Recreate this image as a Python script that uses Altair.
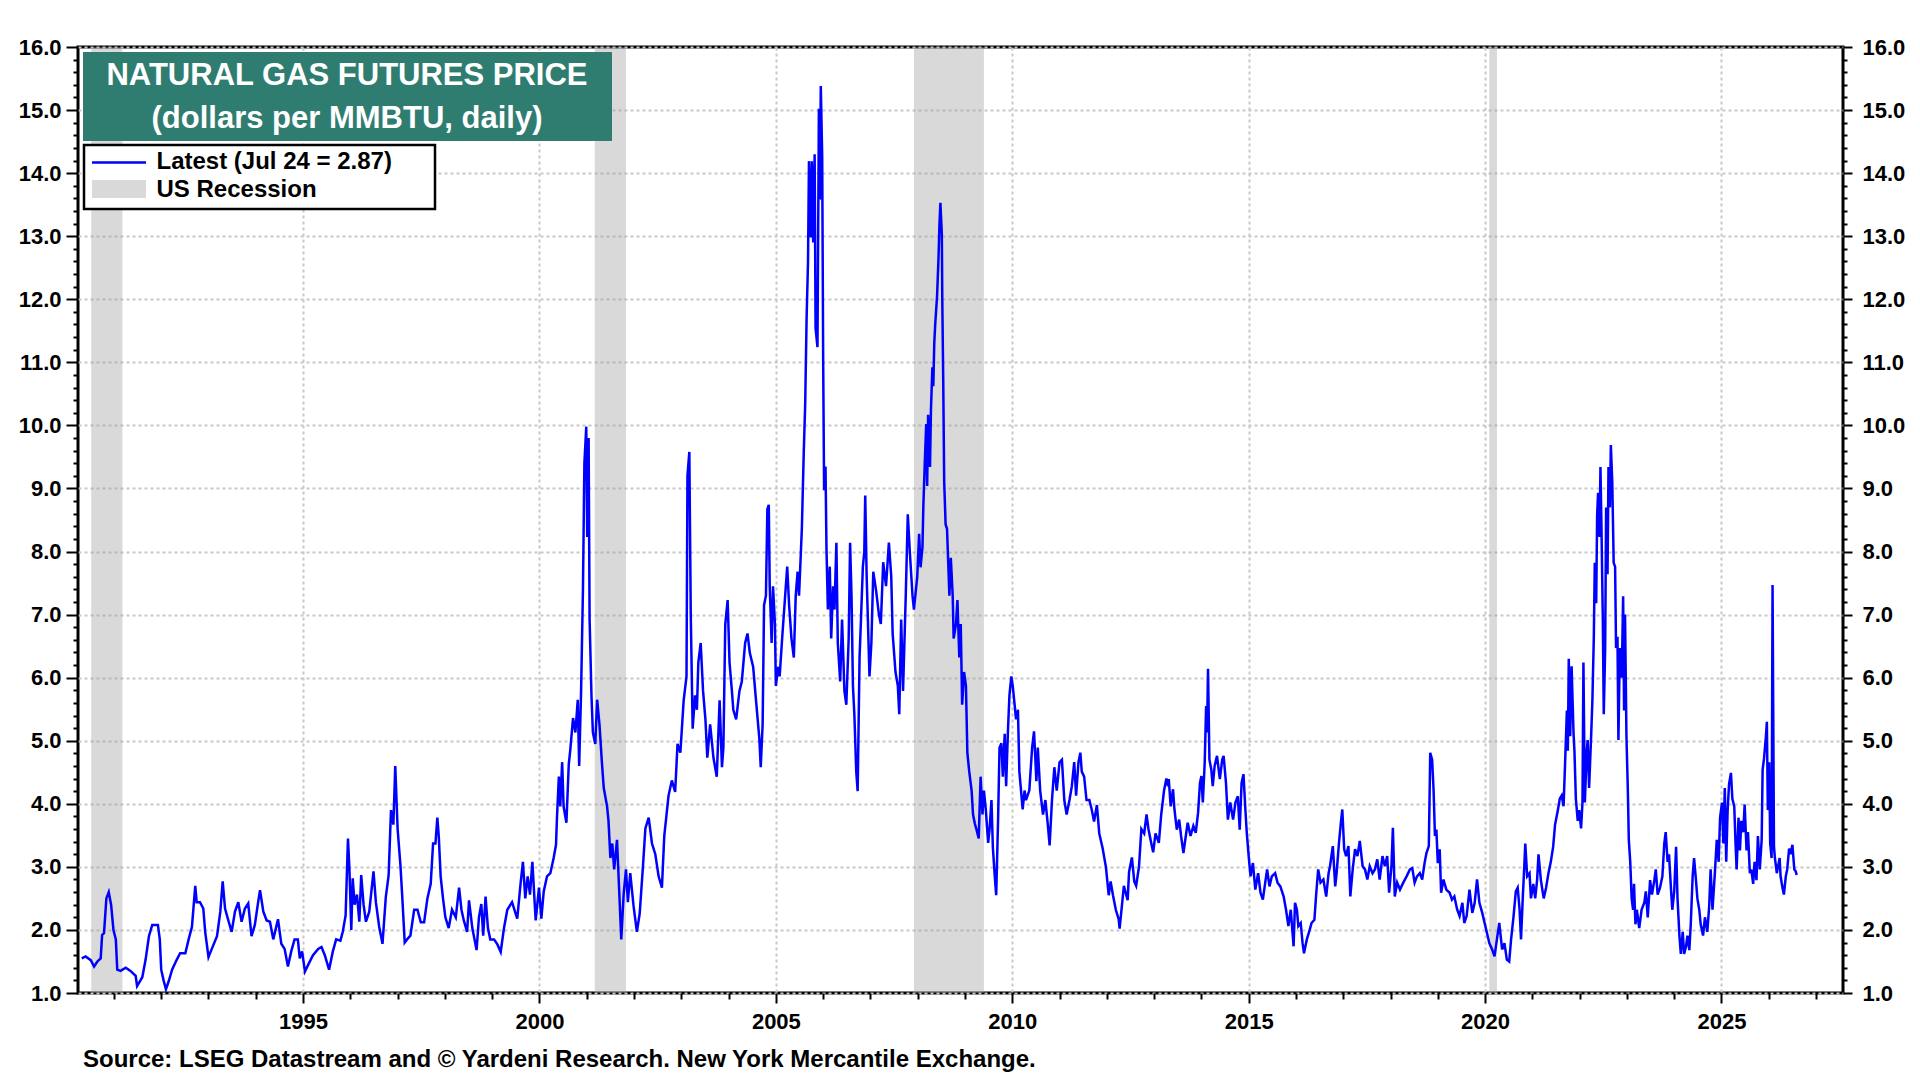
import altair as alt
import pandas as pd

FONT = "Liberation Sans"
TEAL = "#2e7d70"
BLUE = "#0000ff"

# natural gas front-month futures (decimal year, $/MMBTU)
years = [
    1990.32, 1990.40, 1990.51, 1990.58, 1990.65, 1990.72, 1990.75, 1990.79, 1990.84, 1990.89,
    1990.94, 1990.99, 1991.04, 1991.07, 1991.14, 1991.25, 1991.35, 1991.46, 1991.49, 1991.60,
    1991.67, 1991.74, 1991.81, 1991.93, 1991.97, 1992.00, 1992.05, 1992.10, 1992.16, 1992.23,
    1992.33, 1992.40, 1992.51, 1992.58, 1992.65, 1992.72, 1992.75, 1992.82, 1992.89, 1992.93,
    1993.00, 1993.07, 1993.18, 1993.25, 1993.30, 1993.35, 1993.42, 1993.49, 1993.56, 1993.63,
    1993.70, 1993.77, 1993.84, 1993.91, 1993.98, 1994.05, 1994.09, 1994.16, 1994.23, 1994.30,
    1994.37, 1994.47, 1994.54, 1994.61, 1994.68, 1994.75, 1994.82, 1994.89, 1994.93, 1994.98,
    1995.04, 1995.11, 1995.21, 1995.32, 1995.39, 1995.46, 1995.55, 1995.63, 1995.70, 1995.79,
    1995.84, 1995.90, 1995.95, 1995.98, 1996.02, 1996.05, 1996.09, 1996.14, 1996.19, 1996.23,
    1996.28, 1996.33, 1996.40, 1996.49, 1996.54, 1996.61, 1996.68, 1996.75, 1996.81, 1996.86,
    1996.91, 1996.95, 1997.00,
    1997.06, 1997.10, 1997.15, 1997.20, 1997.27, 1997.35, 1997.42, 1997.49, 1997.56, 1997.63,
    1997.70, 1997.75, 1997.80, 1997.84, 1997.87, 1997.91, 1997.96, 1998.01, 1998.08, 1998.15,
    1998.23, 1998.30, 1998.35, 1998.40, 1998.47, 1998.51, 1998.58, 1998.67, 1998.72, 1998.77,
    1998.81, 1998.86, 1998.91, 1998.96, 1999.04, 1999.11, 1999.18, 1999.25, 1999.32, 1999.42,
    1999.53, 1999.60, 1999.65, 1999.70, 1999.75, 1999.80, 1999.85, 1999.92, 1999.99, 2000.04,
    2000.09, 2000.16, 2000.23, 2000.30, 2000.35, 2000.37, 2000.41, 2000.44, 2000.48, 2000.51,
    2000.57, 2000.62, 2000.65, 2000.71, 2000.76, 2000.81, 2000.84, 2000.88, 2000.90, 2000.92,
    2000.95, 2000.99, 2001.01, 2001.04, 2001.06, 2001.10, 2001.13, 2001.18, 2001.22, 2001.27,
    2001.32, 2001.36, 2001.43, 2001.46, 2001.50, 2001.54, 2001.58, 2001.64, 2001.70, 2001.73,
    2001.78, 2001.83, 2001.87, 2001.92, 2001.99, 2002.06, 2002.12, 2002.19, 2002.24, 2002.31,
    2002.38, 2002.45, 2002.52, 2002.59, 2002.64, 2002.73, 2002.80, 2002.87, 2002.92,
    2002.98, 2003.05, 2003.11, 2003.13, 2003.17, 2003.20, 2003.24, 2003.29, 2003.33, 2003.36,
    2003.41, 2003.46, 2003.51, 2003.55, 2003.61, 2003.68, 2003.75, 2003.81, 2003.86, 2003.89,
    2003.93, 2003.98, 2004.02, 2004.07, 2004.10, 2004.16, 2004.23, 2004.28, 2004.35, 2004.40,
    2004.45, 2004.52, 2004.58, 2004.65, 2004.68, 2004.72, 2004.75, 2004.79, 2004.82, 2004.85,
    2004.87, 2004.91, 2004.94, 2004.98, 2005.00, 2005.05, 2005.08, 2005.14, 2005.19, 2005.24,
    2005.28, 2005.33, 2005.38, 2005.42, 2005.46, 2005.49, 2005.52, 2005.55, 2005.59, 2005.62,
    2005.65, 2005.68, 2005.70, 2005.74, 2005.76, 2005.79, 2005.82, 2005.84, 2005.88, 2005.91,
    2005.93, 2005.95, 2005.98, 2006.00, 2006.02, 2006.05, 2006.07, 2006.10, 2006.14, 2006.17,
    2006.21, 2006.24, 2006.28, 2006.31, 2006.36, 2006.40, 2006.45, 2006.49, 2006.54, 2006.57,
    2006.60, 2006.63, 2006.66, 2006.70, 2006.73, 2006.77, 2006.80, 2006.84, 2006.87, 2006.89,
    2006.92, 2006.98, 2007.02, 2007.06, 2007.12, 2007.18, 2007.22, 2007.27, 2007.33, 2007.39,
    2007.44, 2007.47, 2007.53, 2007.58, 2007.61, 2007.65, 2007.69, 2007.75, 2007.79, 2007.84,
    2007.89,
    2007.92, 2007.99, 2008.03, 2008.06, 2008.10, 2008.12, 2008.15, 2008.18, 2008.20, 2008.22,
    2008.26, 2008.28, 2008.31, 2008.33, 2008.35, 2008.37, 2008.39, 2008.41, 2008.44, 2008.46,
    2008.48, 2008.51, 2008.52, 2008.54, 2008.56, 2008.59, 2008.62, 2008.67, 2008.70, 2008.74,
    2008.76, 2008.81, 2008.84, 2008.88, 2008.91, 2008.94, 2008.98, 2009.02, 2009.05, 2009.09,
    2009.14, 2009.17, 2009.21, 2009.24, 2009.29, 2009.33, 2009.37, 2009.40, 2009.44, 2009.49,
    2009.52, 2009.56, 2009.59, 2009.63, 2009.66, 2009.70, 2009.73, 2009.77, 2009.80, 2009.84,
    2009.87, 2009.91, 2009.94, 2009.98, 2010.01, 2010.05, 2010.08, 2010.12, 2010.15, 2010.22,
    2010.26, 2010.29, 2010.36, 2010.42, 2010.46, 2010.51, 2010.54, 2010.59, 2010.65, 2010.70,
    2010.75, 2010.79, 2010.84, 2010.89, 2010.94, 2011.00, 2011.05, 2011.10, 2011.15, 2011.21,
    2011.26, 2011.31, 2011.35, 2011.40, 2011.44, 2011.47, 2011.52, 2011.57, 2011.63, 2011.68,
    2011.73, 2011.79, 2011.84, 2011.91, 2011.98, 2012.04, 2012.08, 2012.13, 2012.19, 2012.25,
    2012.27, 2012.33, 2012.36, 2012.44, 2012.47, 2012.53, 2012.58, 2012.62, 2012.68, 2012.73,
    2012.79, 2012.84, 2012.88, 2012.93, 2012.98, 2013.03, 2013.10, 2013.15, 2013.21, 2013.26,
    2013.28, 2013.31, 2013.35, 2013.40, 2013.43, 2013.48, 2013.53, 2013.57, 2013.62, 2013.67,
    2013.71, 2013.77, 2013.83, 2013.88, 2013.93, 2013.97, 2014.00, 2014.03, 2014.07, 2014.10,
    2014.12, 2014.14, 2014.17, 2014.21, 2014.24, 2014.28, 2014.33, 2014.39, 2014.44, 2014.47,
    2014.52, 2014.56, 2014.61, 2014.67, 2014.72, 2014.77, 2014.81, 2014.85, 2014.89, 2014.93,
    2014.96, 2015.00, 2015.04, 2015.09, 2015.14, 2015.20, 2015.25, 2015.30, 2015.35, 2015.39,
    2015.44, 2015.49, 2015.56, 2015.61, 2015.67, 2015.74, 2015.79, 2015.84, 2015.89, 2015.95,
    2015.98, 2016.02, 2016.05, 2016.10, 2016.14, 2016.17, 2016.23, 2016.29, 2016.33, 2016.39,
    2016.43, 2016.47, 2016.52, 2016.58, 2016.64, 2016.69, 2016.72, 2016.78, 2016.83, 2016.86,
    2016.91, 2016.95, 2016.98, 2017.02, 2017.06, 2017.11, 2017.15, 2017.20, 2017.25, 2017.30,
    2017.35, 2017.41, 2017.46, 2017.51, 2017.56, 2017.62, 2017.67, 2017.72, 2017.77, 2017.83,
    2017.88, 2017.93, 2017.97, 2018.02, 2018.05, 2018.09, 2018.14, 2018.20, 2018.27, 2018.34,
    2018.41, 2018.46, 2018.51, 2018.56, 2018.62, 2018.67, 2018.72, 2018.76, 2018.81, 2018.84,
    2018.88, 2018.91, 2018.94, 2018.97, 2019.00, 2019.04, 2019.07, 2019.12, 2019.18, 2019.25,
    2019.30, 2019.35, 2019.41, 2019.46, 2019.52, 2019.56, 2019.61, 2019.67, 2019.73, 2019.78,
    2019.83, 2019.88, 2019.94, 2019.99, 2020.04, 2020.09, 2020.15, 2020.20, 2020.25, 2020.30,
    2020.36, 2020.41, 2020.46,
    2020.51, 2020.55, 2020.60, 2020.65, 2020.69, 2020.73, 2020.76, 2020.80, 2020.83, 2020.85,
    2020.89, 2020.94, 2020.97, 2021.02, 2021.06, 2021.10, 2021.13, 2021.18, 2021.24, 2021.29,
    2021.34, 2021.39, 2021.44, 2021.48, 2021.54, 2021.58, 2021.62, 2021.66, 2021.69, 2021.73,
    2021.75, 2021.77, 2021.80, 2021.83, 2021.87, 2021.89, 2021.92, 2021.96, 2021.99, 2022.03,
    2022.06, 2022.08, 2022.11, 2022.15, 2022.17, 2022.20, 2022.24, 2022.27, 2022.30, 2022.32,
    2022.35, 2022.37, 2022.39, 2022.42, 2022.44, 2022.46, 2022.49, 2022.51, 2022.54, 2022.56,
    2022.59, 2022.61, 2022.64, 2022.66, 2022.69, 2022.72, 2022.75, 2022.77, 2022.80, 2022.82,
    2022.85, 2022.89, 2022.92, 2022.94, 2022.96, 2022.99, 2023.02, 2023.04, 2023.07, 2023.10,
    2023.13, 2023.15, 2023.18, 2023.21, 2023.26, 2023.31, 2023.37, 2023.40, 2023.44, 2023.49,
    2023.53, 2023.58, 2023.61, 2023.65, 2023.70, 2023.75, 2023.79, 2023.82, 2023.86, 2023.89,
    2023.93, 2023.96, 2024.00, 2024.04, 2024.07, 2024.11, 2024.14, 2024.18, 2024.21, 2024.25,
    2024.28, 2024.32, 2024.35, 2024.39, 2024.42, 2024.46, 2024.49, 2024.53, 2024.56, 2024.61,
    2024.65, 2024.70, 2024.74, 2024.77, 2024.81, 2024.86, 2024.90, 2024.94, 2024.97, 2025.01,
    2025.04, 2025.07, 2025.10, 2025.13, 2025.16, 2025.20, 2025.23, 2025.27, 2025.30, 2025.32,
    2025.36, 2025.39, 2025.42, 2025.46, 2025.49, 2025.53, 2025.56, 2025.60, 2025.63, 2025.67,
    2025.70, 2025.74, 2025.77, 2025.81, 2025.85, 2025.87, 2025.90, 2025.94, 2025.96, 2025.98,
    2026.01, 2026.03, 2026.06, 2026.08, 2026.11, 2026.13, 2026.17, 2026.20, 2026.23, 2026.25,
    2026.29, 2026.32, 2026.36, 2026.39, 2026.43, 2026.46, 2026.50, 2026.54, 2026.57, 2026.59,
]
prices = [
    1.55, 1.58, 1.52, 1.42, 1.50, 1.55, 1.92, 1.95, 2.50, 2.60,
    2.40, 2.00, 1.85, 1.37, 1.35, 1.40, 1.35, 1.27, 1.11, 1.25,
    1.53, 1.90, 2.08, 2.08, 1.85, 1.37, 1.20, 1.06, 1.19, 1.37,
    1.53, 1.63, 1.63, 1.85, 2.05, 2.70, 2.44, 2.44, 2.34, 1.97,
    1.57, 1.70, 1.90, 2.29, 2.77, 2.34, 2.15, 1.97, 2.29, 2.44,
    2.13, 2.34, 2.42, 1.90, 2.08, 2.44, 2.63, 2.29, 2.15, 2.13,
    1.85, 2.17, 1.78, 1.70, 1.42, 1.66, 1.85, 1.85, 1.55, 1.66,
    1.34, 1.45, 1.60, 1.70, 1.73, 1.60, 1.37, 1.66, 1.85, 1.83,
    1.97, 2.23, 3.45, 2.98, 2.00, 2.82, 2.40, 2.56, 2.13, 2.87,
    2.40, 2.13, 2.29, 2.93, 2.44, 2.05, 1.78, 2.52, 2.87, 3.90,
    3.67, 4.60, 3.60,
    3.02, 2.50, 1.80, 1.85, 1.91, 2.32, 2.32, 2.12, 2.12, 2.50,
    2.73, 3.37, 3.37, 3.78, 3.49, 2.85, 2.50, 2.20, 2.03, 2.32,
    2.20, 2.67, 2.32, 2.15, 1.97, 2.47, 2.03, 1.68, 2.20, 2.41,
    1.91, 2.53, 2.03, 1.85, 1.85, 1.77, 1.65, 2.03, 2.32, 2.44,
    2.18, 2.73, 3.08, 2.50, 2.85, 2.56, 3.08, 2.15, 2.67, 2.18,
    2.61, 2.85, 2.90, 3.14, 3.35, 3.78, 4.43, 3.96, 4.66, 3.96,
    3.70, 4.63, 4.84, 5.36, 5.13, 5.65, 4.60, 5.77, 6.59, 7.40,
    9.40, 9.98, 8.23, 9.80, 6.94, 5.71, 5.13, 4.95, 5.65, 5.25,
    4.66, 4.25, 3.96, 3.73, 3.14, 3.37, 2.96, 3.43, 2.38, 1.85,
    2.56, 2.96, 2.44, 2.90, 2.38, 1.97, 2.26, 3.02, 3.61, 3.78,
    3.37, 3.20, 2.85, 2.67, 3.49, 4.13, 4.37, 4.19, 4.95,
    4.81, 5.64, 6.02, 9.20, 9.58, 7.00, 5.19, 5.72, 5.49, 6.24,
    6.55, 5.79, 5.34, 4.73, 5.26, 4.73, 4.43, 5.64, 4.58, 4.89,
    6.85, 7.23, 6.24, 5.79, 5.49, 5.34, 5.79, 5.94, 6.55, 6.70,
    6.39, 6.17, 5.64, 5.04, 4.58, 5.26, 7.15, 7.30, 8.67, 8.74,
    7.45, 6.55, 7.45, 6.85, 5.87, 6.17, 6.02, 6.70, 7.23, 7.76,
    7.15, 6.62, 6.32, 7.30, 7.68, 7.30, 7.83, 8.37, 9.58, 10.33,
    11.70, 12.60, 14.19, 12.98, 14.19, 12.90, 14.30, 11.54, 11.24, 15.02,
    13.58, 15.38, 14.27, 11.09, 8.97, 9.35, 8.06, 7.08, 7.76, 6.62,
    7.45, 7.08, 8.14, 6.55, 5.94, 6.92, 5.79, 5.57, 6.62, 8.14,
    7.30, 5.87, 5.42, 4.51, 4.20, 6.32, 6.92, 7.76, 7.99, 8.89,
    7.61, 6.02, 6.55, 7.68, 7.38, 7.00, 6.85, 7.83, 7.45, 8.14,
    7.61, 6.70, 6.09, 5.87, 5.42, 6.92, 5.79, 7.38, 8.59, 7.91,
    7.30,
    7.08, 7.60, 8.28, 7.75, 8.06, 8.74, 9.42, 10.02, 9.04, 10.17,
    9.34, 10.25, 10.92, 10.62, 11.30, 11.60, 11.83, 12.06, 12.66, 13.19,
    13.53, 13.04, 11.98, 10.70, 9.11, 8.43, 8.36, 7.30, 7.90, 7.30,
    6.62, 6.85, 7.23, 6.32, 6.85, 5.57, 6.09, 5.87, 4.81, 4.51,
    4.21, 3.83, 3.68, 3.60, 3.45, 4.43, 3.83, 4.21, 3.91, 3.38,
    3.60, 4.06, 3.30, 2.85, 2.55, 3.75, 4.89, 4.96, 4.43, 5.11,
    4.28, 5.19, 5.72, 6.02, 5.87, 5.57, 5.34, 5.49, 4.51, 3.91,
    4.21, 4.06, 4.21, 4.89, 5.15, 4.36, 4.89, 4.21, 3.83, 4.06,
    3.68, 3.34, 4.06, 4.58, 4.21, 4.66, 4.70, 4.06, 3.83, 4.06,
    4.28, 4.66, 4.13, 4.66, 4.81, 4.51, 4.43, 4.06, 4.06, 3.91,
    3.72, 3.98, 3.53, 3.30, 3.00, 2.55, 2.77, 2.55, 2.32, 2.17,
    2.02, 2.47, 2.70, 2.47, 2.92, 3.15, 2.77, 2.70, 3.00, 3.60,
    3.53, 3.83, 3.60, 3.41, 3.23, 3.53, 3.38, 3.83, 4.21, 4.40,
    4.33, 4.39, 3.96, 4.23, 3.91, 3.59, 3.75, 3.49, 3.22, 3.49,
    3.70, 3.49, 3.65, 3.54, 3.86, 4.33, 4.44, 4.02, 4.65, 5.55,
    5.13, 6.14, 4.70, 4.54, 4.28, 4.60, 4.76, 4.39, 4.70, 4.76,
    4.33, 3.75, 4.02, 3.75, 4.02, 4.12, 3.59, 4.33, 4.47, 3.91,
    3.54, 3.17, 2.85, 3.06, 2.64, 2.90, 2.59, 2.48, 2.75, 2.96,
    2.69, 2.85, 2.90, 2.75, 2.69, 2.53, 2.32, 2.06, 2.32, 1.74,
    2.43, 2.32, 2.06, 2.11, 1.79, 1.63, 1.85, 2.00, 2.11, 2.16,
    2.59, 2.96, 2.75, 2.80, 2.53, 2.90, 3.01, 3.33, 2.69, 2.90,
    3.38, 3.70, 3.91, 3.28, 3.17, 3.33, 2.53, 2.96, 3.28, 3.17,
    3.41, 3.01, 2.96, 2.80, 3.01, 2.90, 2.96, 3.12, 2.80, 3.17,
    3.01, 3.17, 2.59, 3.01, 3.62, 2.53, 2.75, 2.64, 2.75, 2.85,
    2.96, 2.98, 2.75, 2.85, 2.90, 2.80, 3.06, 3.22, 3.33, 4.81,
    4.70, 4.23, 3.49, 3.59, 3.06, 3.28, 2.59, 2.80, 2.64, 2.59,
    2.48, 2.53, 2.32, 2.22, 2.43, 2.11, 2.22, 2.64, 2.27, 2.43,
    2.80, 2.43, 2.27, 2.11, 1.95, 1.79, 1.69, 1.58, 1.85, 2.11,
    1.69, 1.79, 1.53,
    1.50, 1.85, 2.20, 2.61, 2.67, 2.32, 1.85, 2.56, 3.02, 3.37,
    2.85, 2.90, 2.50, 2.73, 2.50, 2.79, 3.20, 2.79, 2.50, 2.67,
    2.90, 3.08, 3.32, 3.67, 3.90, 4.08, 4.13, 3.96, 4.60, 5.48,
    4.84, 6.30, 5.07, 6.18, 5.13, 4.84, 4.08, 3.73, 3.90, 3.61,
    4.02, 6.24, 4.02, 4.84, 5.01, 4.25, 5.01, 5.65, 6.65, 7.82,
    7.18, 8.58, 8.93, 8.23, 9.34, 8.46, 6.94, 5.42, 6.47, 8.70,
    7.64, 9.34, 8.70, 9.69, 9.10, 7.82, 7.76, 6.47, 6.65, 5.01,
    6.47, 6.00, 7.29, 5.48, 7.00, 5.07, 4.19, 3.43, 3.08, 2.50,
    2.32, 2.73, 2.09, 2.32, 2.03, 2.32, 2.44, 2.61, 2.20, 2.79,
    2.56, 2.79, 2.96, 2.56, 2.67, 2.85, 3.37, 3.55, 3.08, 3.20,
    2.67, 2.32, 2.61, 3.32, 2.50, 1.91, 1.62, 1.97, 1.62, 1.74,
    1.91, 1.68, 2.09, 2.85, 3.14, 2.79, 2.50, 2.32, 2.09, 1.91,
    2.20, 1.97, 2.38, 2.96, 2.32, 2.90, 3.43, 3.08, 3.78, 4.02,
    3.37, 4.25, 3.08, 3.90, 4.31, 4.49, 4.08, 3.96, 3.32, 2.96,
    3.78, 3.26, 3.73, 3.55, 3.99, 3.26, 3.55, 2.90, 2.96, 2.73,
    3.08, 2.79, 3.49, 2.96, 3.43, 4.54, 4.72, 5.07, 5.30, 3.90,
    4.66, 3.37, 3.14, 7.47, 3.32, 3.14, 2.90, 3.02, 3.14, 2.85,
    2.67, 2.56, 2.85, 2.96, 3.29, 3.20, 3.35, 2.96, 2.93, 2.87,
]

# NBER recessions (decimal year)
rec_start = [1990.52, 2001.17, 2007.92, 2020.09]
rec_end = [1991.18, 2001.83, 2009.40, 2020.25]

title_lines = ["NATURAL GAS FUTURES PRICE", "(dollars per MMBTU, daily)"]
latest_date = "Jul 24"
source_note = "Source: LSEG Datastream and \u00a9 Yardeni Research. New York Mercantile Exchange."

y_ticks = [round(1 + 0.2 * i, 1) for i in range(76)]
x_ticks = list(range(1991, 2028))

W, H = 1765, 946

df = pd.DataFrame({"year": years, "price": prices})
rec = pd.DataFrame({"start": rec_start, "end": rec_end})

x_scale = alt.Scale(domain=[1990.24, 2027.57], nice=False, zero=False)
y_scale = alt.Scale(domain=[1, 16], nice=False, zero=False)

major_y = "abs(datum.value - round(datum.value)) < 0.01"
major_x = "datum.value % 5 === 0"


def y_axis(orient, major_len, minor_len, pad, grid):
    return alt.Axis(
        orient=orient, values=y_ticks, format=".1f", title=None,
        labelExpr=f"{major_y} ? datum.label : ''",
        labelOverlap=False, labelFlush=False,
        labelFont=FONT, labelFontWeight="bold", labelFontSize=22, labelColor="black",
        labelPadding=pad, domain=False,
        tickColor="black", tickWidth=2,
        tickSize={"condition": {"test": major_y, "value": major_len}, "value": minor_len},
        grid=grid, gridColor="#c8c8c8", gridDash=[3, 3], gridWidth=2,
        gridOpacity={"condition": {"test": major_y, "value": 1}, "value": 0},
    )


x_axis = alt.Axis(
    orient="bottom", values=x_ticks, format="d", title=None,
    labelExpr=f"{major_x} ? datum.label : ''",
    labelOverlap=False, labelFlush=False,
    labelFont=FONT, labelFontWeight="bold", labelFontSize=22, labelColor="black",
    labelPadding=8, domain=False,
    tickColor="black", tickWidth=2,
    tickSize={"condition": {"test": major_x, "value": 10}, "value": 6},
    grid=True, gridColor="#c8c8c8", gridDash=[3, 3], gridWidth=2,
    gridOpacity={"condition": {"test": major_x, "value": 1}, "value": 0},
)

bands = alt.Chart(rec).mark_rect(color="#a0a0a0", opacity=0.4).encode(
    x=alt.X("start:Q", scale=x_scale, axis=x_axis),
    x2="end:Q",
)

line = alt.Chart(df).mark_line(color=BLUE, strokeWidth=2.5).encode(
    x=alt.X("year:Q", scale=x_scale, axis=x_axis),
    y=alt.Y("price:Q", scale=y_scale, axis=y_axis("left", 12, 5, 5, True)),
)

right = alt.Chart(df).mark_line(opacity=0).encode(
    x=alt.X("year:Q", scale=x_scale, axis=x_axis),
    y=alt.Y("price:Q", scale=y_scale, axis=y_axis("right", 9, 4, 10, False)),
)


def one_row(**cols):
    return alt.Chart(pd.DataFrame({k: [v] for k, v in cols.items()}))


def note(text, x, y, size, color="black", align="left"):
    return one_row(t=text).mark_text(
        font=FONT, fontWeight="bold", fontSize=size, color=color,
        align=align, baseline="alphabetic",
    ).encode(x=alt.value(x), y=alt.value(y), text="t:N")


title_box = one_row(k=0).mark_rect(color=TEAL).encode(
    x=alt.value(5), x2=alt.value(534), y=alt.value(5), y2=alt.value(94)
)
legend_box = one_row(k=0).mark_rect(fill="white", stroke="black", strokeWidth=2.5).encode(
    x=alt.value(6), x2=alt.value(357), y=alt.value(98), y2=alt.value(162)
)
legend_line = one_row(k=0).mark_rule(color=BLUE, strokeWidth=2.5).encode(
    x=alt.value(14), x2=alt.value(68), y=alt.value(115.5)
)
legend_swatch = one_row(k=0).mark_rect(color="#a0a0a0", opacity=0.4).encode(
    x=alt.value(14), x2=alt.value(68), y=alt.value(133), y2=alt.value(151)
)

latest_label = f"Latest ({latest_date} = {prices[-1]:.2f})"

main = alt.layer(
    bands,
    line,
    title_box,
    note(title_lines[0], 269, 38, 31, "white", "center"),
    note(title_lines[1], 269, 80.5, 31, "white", "center"),
    legend_box,
    legend_line,
    legend_swatch,
    note(latest_label, 78.5, 122, 24),
    note("US Recession", 78.5, 149.5, 24),
    note(source_note, 5, H + 73.5, 24),
)

chart = (
    alt.layer(main, right)
    .resolve_scale(y="independent")
    .properties(
        width=W, height=H,
        padding={"left": 70, "top": 39, "right": 68, "bottom": 80},
        autosize=alt.AutoSizeParams(type="none"),
        background="white",
    )
    .configure_view(stroke="black", strokeWidth=3)
)

chart.save("out.html", embed_options={"renderer": "svg", "actions": False})
